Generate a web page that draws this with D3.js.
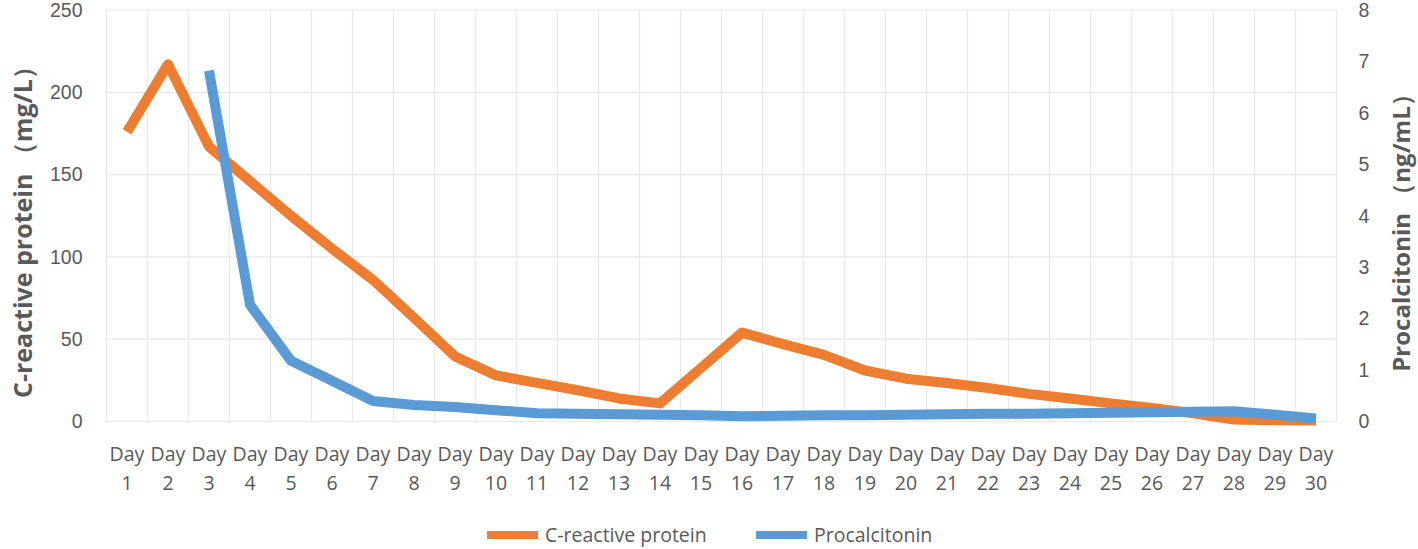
<!DOCTYPE html>
<html>
<head>
<meta charset="utf-8">
<script src="https://cdn.jsdelivr.net/npm/d3@7"></script>
<style>
  body { margin: 0; background: #fff; }
  svg { display: block; font-family: "Open Sans", "Noto Sans", sans-serif; }
</style>
</head>
<body>
<div id="chart"></div>
<script>
const days = d3.range(1, 31).map(d => 'Day ' + d);

// C-reactive protein, mg/L (left axis)
const crp = [176, 217, 167, 146, 125, 105, 86, 63, 39.5, 28,
  23.5, 19, 14, 11, 32.5, 54, 47, 40.5, 31, 26,
  23.4, 20.3, 16.8, 14, 11, 8.2, 5, 1.2, 0.8, 0.6];

// Procalcitonin, ng/mL (right axis); days 1-2 not measured
const pct = [null, null, 6.82, 2.27, 1.18, 0.79, 0.4, 0.32, 0.28, 0.22,
  0.16, 0.15, 0.14, 0.13, 0.12, 0.1, 0.11, 0.12, 0.12, 0.13,
  0.14, 0.15, 0.15, 0.16, 0.17, 0.18, 0.19, 0.2, 0.13, 0.06];

const leftTicks = [0, 50, 100, 150, 200, 250];
const rightTicks = [0, 1, 2, 3, 4, 5, 6, 7, 8];

const W = 1418, H = 549;
const plot = { left: 106.5, right: 1336.5, top: 10, bottom: 421.5 };
const orange = '#ED7D31', blue = '#5B9BD5', textColor = '#595959';
const fs = '19.5px';

const svg = d3.select('#chart').append('svg')
  .attr('width', W)
  .attr('height', H);

const x = d3.scaleBand()
  .domain(days)
  .range([plot.left, plot.right]);

const yL = d3.scaleLinear().domain([0, 250]).range([plot.bottom, plot.top]);
const yR = d3.scaleLinear().domain([0, 8]).range([plot.bottom, plot.top]);

// grid
const grid = svg.append('g').attr('class', 'grid');
grid.selectAll('.hgrid')
  .data(leftTicks)
  .enter().append('line')
  .attr('x1', plot.left).attr('x2', plot.right)
  .attr('y1', d => yL(d)).attr('y2', d => yL(d))
  .attr('stroke', '#e8e8e8').attr('stroke-width', 1.2);
grid.selectAll('.vgrid')
  .data(days.map(d => x(d)).concat([plot.right]))
  .enter().append('line')
  .attr('x1', d => d).attr('x2', d => d)
  .attr('y1', plot.top).attr('y2', plot.bottom)
  .attr('stroke', '#e8e8e8').attr('stroke-width', 1.2);

// left axis
const leftAxis = svg.append('g')
  .attr('transform', `translate(${plot.left - 24},0)`)
  .call(d3.axisLeft(yL).tickValues(leftTicks).tickSize(0).tickPadding(0));
leftAxis.select('.domain').remove();
leftAxis.selectAll('text')
  .attr('fill', textColor)
  .style('font-size', fs);

// right axis
const rightAxis = svg.append('g')
  .attr('transform', `translate(${plot.right + 22},0)`)
  .call(d3.axisRight(yR).tickValues(rightTicks).tickSize(0).tickPadding(0));
rightAxis.select('.domain').remove();
rightAxis.selectAll('text')
  .attr('fill', textColor)
  .style('font-size', fs);

// x labels, two lines
const xLabels = svg.append('g').selectAll('.xl')
  .data(days)
  .enter().append('text')
  .attr('text-anchor', 'middle')
  .attr('fill', textColor)
  .style('font-size', fs);
xLabels.append('tspan')
  .attr('x', d => x(d) + x.bandwidth() / 2)
  .attr('y', 461)
  .text(d => d.split(' ')[0]);
xLabels.append('tspan')
  .attr('x', d => x(d) + x.bandwidth() / 2)
  .attr('y', 490)
  .text(d => d.split(' ')[1]);

// axis titles
svg.append('text')
  .attr('transform', 'translate(32,226) rotate(-90)')
  .attr('text-anchor', 'middle')
  .attr('fill', textColor)
  .style('font-size', '25px')
  .style('font-weight', 'bold')
  .text('C-reactive protein （mg/L）');

svg.append('text')
  .attr('transform', 'translate(1410,227) rotate(-90)')
  .attr('text-anchor', 'middle')
  .attr('fill', textColor)
  .style('font-size', '24px')
  .style('font-weight', 'bold')
  .text('Procalcitonin （ng/mL）');

// lines
const cx = (d, i) => x(days[i]) + x.bandwidth() / 2;

svg.append('path')
  .datum(crp)
  .attr('fill', 'none')
  .attr('stroke', orange)
  .attr('stroke-width', 10)
  .attr('stroke-linejoin', 'round')
  .attr('d', d3.line().x(cx).y(d => yL(d)));

svg.append('path')
  .datum(pct)
  .attr('fill', 'none')
  .attr('stroke', blue)
  .attr('stroke-width', 10)
  .attr('stroke-linejoin', 'round')
  .attr('d', d3.line().defined(d => d != null).x(cx).y(d => yR(d)));

// legend
const legendItems = [
  { name: 'C-reactive protein', color: orange, x: 487 },
  { name: 'Procalcitonin', color: blue, x: 756 }
];
const legend = svg.append('g').selectAll('.lg')
  .data(legendItems)
  .enter().append('g')
  .attr('transform', d => `translate(${d.x},535)`);
legend.append('line')
  .attr('x1', 0).attr('x2', 51)
  .attr('stroke', d => d.color)
  .attr('stroke-width', 8);
legend.append('text')
  .attr('x', 58)
  .attr('y', 7)
  .attr('fill', textColor)
  .style('font-size', fs)
  .text(d => d.name);
</script>
</body>
</html>
